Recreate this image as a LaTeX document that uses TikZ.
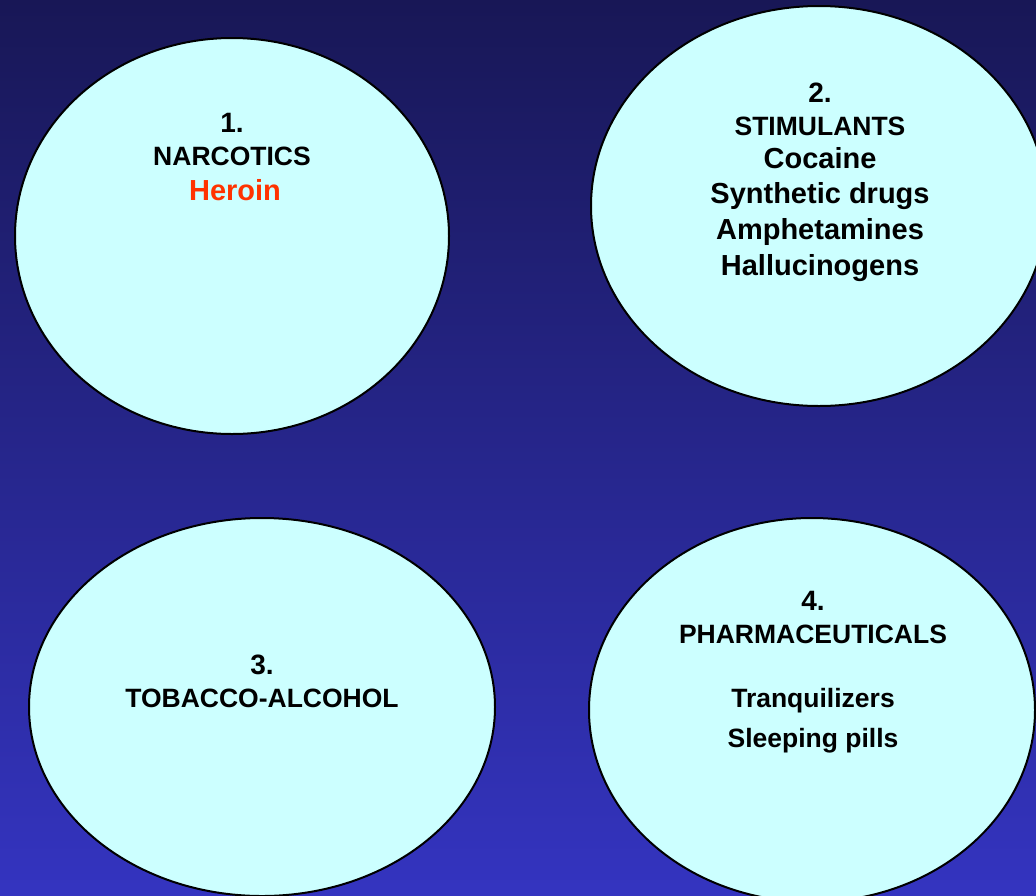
\documentclass[tikz,border=0pt]{standalone}
\usepackage{fontspec}
\setmainfont{Liberation Sans}
\usetikzlibrary{shapes.geometric}
\definecolor{bgtop}{RGB}{24,23,86}
\definecolor{bgbot}{RGB}{52,52,192}
\definecolor{bubble}{RGB}{204,255,255}
\definecolor{heroin}{RGB}{255,51,0}
\tikzset{
  bubblestyle/.style={ellipse, draw=black, line width=2pt, fill=bubble, inner sep=0pt},
  numtxt/.style={anchor=base, inner sep=0pt, font=\bfseries\fontsize{28}{32}\selectfont},
  headtxt/.style={anchor=base, inner sep=0pt, font=\bfseries\fontsize{26.5}{32}\selectfont},
  listtxt/.style={anchor=base, inner sep=0pt, font=\bfseries\fontsize{29}{34}\selectfont},
}
\begin{document}
\begin{tikzpicture}[x=1pt,y=-1pt]
\useasboundingbox (0,0) rectangle (1036,895);
\clip (0,0) rectangle (1036,895);
\shade[top color=bgtop, bottom color=bgbot] (0,0) rectangle (1036,895);
% ellipses
\node[bubblestyle, minimum width=434pt, minimum height=396pt] (e1) at (232,236) {};
\node[bubblestyle, minimum width=456pt, minimum height=400pt] (e2) at (819,206) {};
\node[bubblestyle, minimum width=466pt, minimum height=378pt] (e3) at (262,707) {};
\node[bubblestyle, minimum width=446pt, minimum height=384pt] (e4) at (812,710) {};
% texts 1
\node[numtxt] (n1) at (232,132) {1.};
\node[headtxt] (h1) at (232,165) {NARCOTICS};
\node[listtxt, text=heroin] (l11) at (235,200) {Heroin};
% texts 2
\node[numtxt] (n2) at (820,102) {2.};
\node[headtxt] (h2) at (820,135) {STIMULANTS};
\node[listtxt] (l21) at (820,168) {Cocaine};
\node[listtxt] (l22) at (820,203) {Synthetic drugs};
\node[listtxt] (l23) at (820,239) {Amphetamines};
\node[listtxt] (l24) at (820,275) {Hallucinogens};
% texts 3
\node[numtxt] (n3) at (262,674) {3.};
\node[headtxt] (h3) at (262,707) {TOBACCO-ALCOHOL};
% texts 4
\node[numtxt] (n4) at (813,610) {4.};
\node[headtxt] (h4) at (813,643) {PHARMACEUTICALS};
\node[headtxt] (l41) at (813,707) {Tranquilizers};
\node[headtxt] (l42) at (813,747) {Sleeping pills};
\end{tikzpicture}
\end{document}
